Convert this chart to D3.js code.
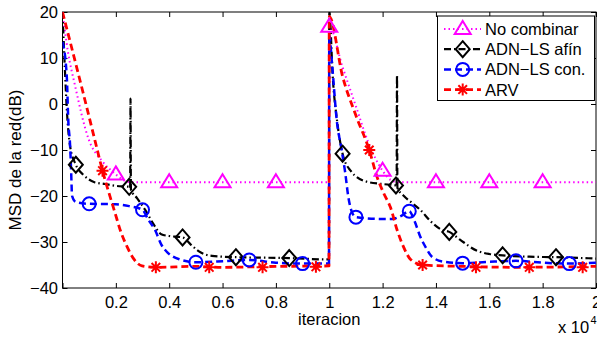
<!DOCTYPE html>
<html>
<head>
<meta charset="utf-8">
<script src="https://cdn.jsdelivr.net/npm/d3@7"></script>
<style>
  body { margin: 0; background: #fff; }
  text { font-family: "Liberation Sans", Arial, Helvetica, sans-serif; }
</style>
</head>
<body>
<script>
// ---------- DATA ----------
const iterTicks = [0, 2000, 4000, 6000, 8000, 10000, 12000, 14000, 16000, 18000, 20000];
const iterTickLabels = ["", "0.2", "0.4", "0.6", "0.8", "1", "1.2", "1.4", "1.6", "1.8", "2"];
const msdTicks = [-40, -30, -20, -10, 0, 10, 20];
const msdTickLabels = ["\u221240", "\u221230", "\u221220", "\u221210", "0", "10", "20"];

const seriesNames = ["No combinar", "ADN\u2212LS af\u00edn", "ADN\u2212LS con.", "ARV"];

// No combinar (magenta, dotted, triangles)
const noCombLine = [[0,20],[200,11.5],[470,4],[970,-7.5],[1500,-12.5],[2000,-15.3],[2300,-16.6],[2600,-17],
  [5000,-17],[9990,-17],[10000,16.8],[10500,8],[11000,-0.5],[11460,-8.3],[12000,-14.5],[12300,-16.5],
  [12600,-17],[20000,-17]];
const noCombMarkers = [[2000,-15.3],[4000,-17],[6000,-17],[8000,-17],[10000,16.8],[12000,-14.5],[14000,-17],[16000,-17],[18000,-17]];

// ADN-LS afín (black, dash-dot, diamonds)
const afinLine = [[0,20],[90,7.5],[150,0],[280,-9],[500,-13.2],[800,-15.5],[1200,-17],[1600,-17.4],[2000,-17.8],
  [2500,-18],[2535,-18.3],[2550,1.2],[2565,-18.6],[2800,-20.5],[3100,-23],[3400,-26],[3700,-28.3],[4000,-28.7],
  [4500,-29],[4800,-30.5],[5100,-32],[5600,-33],[6500,-33.3],[8500,-33.5],[9990,-33.8],
  [10000,20],[10140,5],[10290,-3.5],[10500,-10.8],[10800,-14.5],[11410,-16.9],[12000,-17.4],[12500,-17.7],
  [12525,-18],[12540,6.3],[12555,-18.2],[12800,-20],[13100,-21.5],[13410,-23],[13800,-25.5],[14200,-27.3],
  [14500,-27.8],[14900,-29.5],[15540,-31.9],[16000,-32.6],[16500,-32.9],[17500,-33.2],[18500,-33.3],[20000,-33.6]];
const afinMarkers = [[500,-13.2],[2500,-18],[4500,-29],[6500,-33.3],[8500,-33.5],[10500,-10.8],[12500,-17.7],[14500,-27.8],[16500,-32.9],[18500,-33.3]];

// ADN-LS con. (blue, dashed, circles)
const conLine = [[0,13.5],[160,6],[220,-4],[280,-8.5],[320,-14],[360,-20],[500,-21.3],[1000,-21.7],[2000,-21.8],
  [2500,-22.2],[3000,-23],[3200,-25],[3470,-27.4],[3700,-30.5],[3960,-32.4],[4400,-33.8],[5000,-34.4],
  [6000,-34.2],[7000,-33.9],[8000,-34.5],[9000,-34.7],[9990,-34.7],
  [10000,15],[10100,9],[10290,-4],[10450,-9.5],[10600,-15],[10710,-20],[10850,-23.5],[11000,-24.6],
  [12000,-25],[12350,-25],[12700,-24.3],[13000,-23.3],[13200,-25.5],[13410,-28.8],[13650,-31.5],[13850,-33.2],
  [14300,-34.3],[15000,-34.6],[16000,-34.3],[17000,-34.1],[18000,-34.5],[19000,-34.7],[20000,-34.5]];
const conMarkers = [[1000,-21.7],[3000,-23],[5000,-34.4],[7000,-33.9],[9000,-34.7],[11000,-24.6],[13000,-23.3],[15000,-34.6],[17000,-34.1],[19000,-34.7]];

// ARV (red, dashed, asterisks)
const arvLine = [[0,20],[770,2.5],[1220,-8],[1500,-14.5],[1750,-19.5],[1970,-23.7],[2200,-28],[2420,-31],
  [2650,-33.5],[2980,-35.2],[3500,-35.5],[5000,-35.3],[6000,-35.5],[8000,-35.3],[9990,-35.2],
  [10000,19],[10500,6],[11000,-2.5],[11500,-10],[11800,-16],[12050,-19.5],[12290,-22.4],[12550,-27.5],
  [12780,-31],[13050,-33.8],[13500,-35],[15000,-35.3],[17000,-35.5],[20000,-35.3]];
const arvMarkers = [[1500,-14.5],[3500,-35.5],[5500,-35.5],[7500,-35.5],[9500,-35.4],[11500,-10],[13500,-35],[15500,-35.5],[17500,-35.5],[19500,-35.5]];

// ---------- CHART ----------
const W = 597, H = 338;
const x = d3.scaleLinear().domain([0, 20000]).range([62.5, 596]);
const y = d3.scaleLinear().domain([-40, 20]).range([288, 12]);
const FS = "16.5px";

const svg = d3.select("body").append("svg").attr("width", W).attr("height", H);

svg.append("defs").append("clipPath").attr("id", "plotclip")
  .append("rect").attr("x", x(0)).attr("y", y(20)).attr("width", x(20000) - x(0)).attr("height", y(-40) - y(20));

function styleAxis(g) {
  g.select(".domain").remove();
  g.selectAll(".tick line").attr("stroke", "#000").attr("stroke-width", 1);
  g.selectAll("text").attr("fill", "#000").style("font-size", FS)
    .style("font-family", '"Liberation Sans", Arial, Helvetica, sans-serif');
}

svg.append("g").attr("transform", `translate(0,${y(-40)})`)
  .call(d3.axisBottom(x).tickValues(iterTicks).tickFormat((d, i) => iterTickLabels[i]).tickSize(-5).tickPadding(8.5))
  .call(styleAxis);
svg.append("g").attr("transform", `translate(0,${y(20)})`)
  .call(d3.axisTop(x).tickValues(iterTicks).tickFormat("").tickSize(-5))
  .call(styleAxis);
svg.append("g").attr("transform", `translate(${x(0)},0)`)
  .call(d3.axisLeft(y).tickValues(msdTicks).tickFormat((d, i) => msdTickLabels[i]).tickSize(-5).tickPadding(4.5))
  .call(styleAxis);
svg.append("g").attr("transform", `translate(${x(20000)},0)`)
  .call(d3.axisRight(y).tickValues(msdTicks).tickFormat("").tickSize(-5))
  .call(styleAxis);

// frame
svg.append("rect").attr("x", x(0)).attr("y", y(20)).attr("width", x(20000) - x(0)).attr("height", y(-40) - y(20))
  .attr("fill", "none").attr("stroke", "#000").attr("stroke-width", 1);

// marker painters
function drawMarker(g, type, cx, cy, color) {
  if (type === "tri") {
    g.append("path").attr("d", `M${cx},${cy - 8}L${cx + 8},${cy + 5}L${cx - 8},${cy + 5}Z`)
      .attr("fill", "none").attr("stroke", color).attr("stroke-width", 2);
  } else if (type === "dia") {
    g.append("path").attr("d", `M${cx},${cy - 8}L${cx + 7},${cy}L${cx},${cy + 8}L${cx - 7},${cy}Z`)
      .attr("fill", "none").attr("stroke", color).attr("stroke-width", 2);
  } else if (type === "circ") {
    g.append("circle").attr("cx", cx).attr("cy", cy).attr("r", 6.5)
      .attr("fill", "none").attr("stroke", color).attr("stroke-width", 2);
  } else if (type === "ast") {
    const r = 6, d = 4.3;
    g.append("path").attr("d",
      `M${cx - r},${cy}L${cx + r},${cy}M${cx},${cy - r}L${cx},${cy + r}` +
      `M${cx - d},${cy - d}L${cx + d},${cy + d}M${cx - d},${cy + d}L${cx + d},${cy - d}`)
      .attr("fill", "none").attr("stroke", color).attr("stroke-width", 2);
  }
}

const series = [
  { name: seriesNames[0], line: noCombLine, markers: noCombMarkers, color: "#ff00ff", dash: "1.5,3", width: 2, marker: "tri" },
  { name: seriesNames[1], line: afinLine, markers: afinMarkers, color: "#000000", dash: "7,3,1.5,3", width: 2.2, marker: "dia" },
  { name: seriesNames[2], line: conLine, markers: conMarkers, color: "#0000ff", dash: "7,4", width: 2.5, marker: "circ" },
  { name: seriesNames[3], line: arvLine, markers: arvMarkers, color: "#ff0000", dash: "7,4", width: 2.8, marker: "ast" }
];

const lineGen = d3.line().x(d => x(d[0])).y(d => y(d[1])).curve(d3.curveMonotoneX);
const plot = svg.append("g").attr("clip-path", "url(#plotclip)");

series.forEach(s => {
  plot.append("path").datum(s.line).attr("d", lineGen)
    .attr("fill", "none").attr("stroke", s.color).attr("stroke-width", s.width)
    .attr("stroke-dasharray", s.dash).attr("stroke-linejoin", "round");
});
series.forEach(s => {
  const g = plot.append("g");
  s.markers.forEach(m => drawMarker(g, s.marker, x(m[0]), y(m[1]), s.color));
});

// axis labels
svg.append("text").attr("x", (x(0) + x(20000)) / 2).attr("y", 325).attr("text-anchor", "middle")
  .style("font-size", FS).text("iteracion");
svg.append("text").attr("transform", "translate(21,160) rotate(-90)").attr("text-anchor", "middle")
  .style("font-size", "17px").text("MSD de la red(dB)");
const mult = svg.append("text").attr("x", 558).attr("y", 333).style("font-size", FS);
mult.append("tspan").text("x 10");
svg.append("text").attr("x", 590.5).attr("y", 324).style("font-size", "11px").text("4");

// legend
const lg = svg.append("g");
lg.append("rect").attr("x", 437.5).attr("y", 16).attr("width", 157).attr("height", 84.5)
  .attr("fill", "#fff").attr("stroke", "#000").attr("stroke-width", 1);
series.forEach((s, i) => {
  const cy = 29 + i * 20.2;
  lg.append("line").attr("x1", 444).attr("x2", 481).attr("y1", cy).attr("y2", cy)
    .attr("stroke", s.color).attr("stroke-width", s.width).attr("stroke-dasharray", s.dash);
  drawMarker(lg, s.marker, 462.7, cy, s.color);
  lg.append("text").attr("x", 485).attr("y", cy + 6).style("font-size", FS).text(s.name);
});
</script>
</body>
</html>
